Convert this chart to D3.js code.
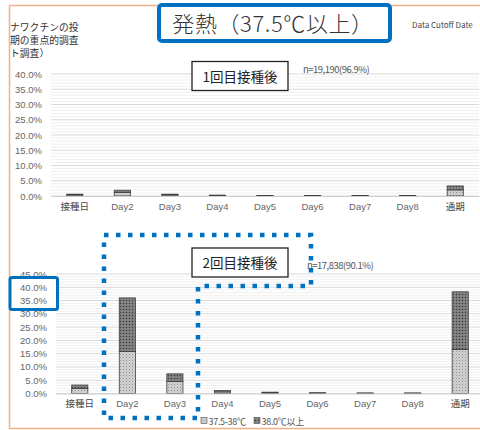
<!DOCTYPE html>
<html>
<head>
<meta charset="utf-8">
<script src="https://cdn.jsdelivr.net/npm/d3@7"></script>
<style>
  body { margin: 0; background: #fff; }
  svg text { font-family: "Noto Sans CJK JP", "Liberation Sans", sans-serif; }
  .tick-label { font-family: "Liberation Sans", sans-serif; font-size: 9.5px; fill: #666; }
</style>
</head>
<body>
<div id="chart"></div>
<script>
// categories and series (percent)
var categories = ["接種日", "Day2", "Day3", "Day4", "Day5", "Day6", "Day7", "Day8", "通期"];
var dose1Low  = [0.4, 1.2, 0.4, 0.2, 0.1, 0.1, 0.1, 0.1, 2.0];
var dose1High = [0.2, 0.7, 0.2, 0.1, 0.1, 0.1, 0.1, 0.1, 1.3];
var dose2Low  = [1.9, 15.8, 4.5, 0.6, 0.3, 0.2, 0.15, 0.15, 16.6];
var dose2High = [1.3, 20.2, 2.9, 0.5, 0.2, 0.1, 0.05, 0.05, 21.7];
var topTicks = [0, 5, 10, 15, 20, 25, 30, 35, 40];
var bottomTicks = [0, 5, 10, 15, 20, 25, 30, 35, 40, 45];
var legendLabels = ["37.5-38℃", "38.0℃以上"];

var blue = "#0070c0";

var svg = d3.select("#chart").append("svg")
  .attr("width", 480)
  .attr("height", 430);

// patterns for the two series
var defs = svg.append("defs");
var p1 = defs.append("pattern").attr("id", "patLow")
  .attr("width", 3).attr("height", 3).attr("patternUnits", "userSpaceOnUse");
p1.append("rect").attr("width", 3).attr("height", 3).attr("fill", "#d4d4d4");
p1.append("rect").attr("x", 0).attr("y", 0).attr("width", 1).attr("height", 1).attr("fill", "#8c8c8c");
p1.append("rect").attr("x", 1.5).attr("y", 1.5).attr("width", 1).attr("height", 1).attr("fill", "#a6a6a6");
var p2 = defs.append("pattern").attr("id", "patHigh")
  .attr("width", 3).attr("height", 3).attr("patternUnits", "userSpaceOnUse");
p2.append("rect").attr("width", 3).attr("height", 3).attr("fill", "#7a7a7a");
p2.append("rect").attr("x", 0).attr("y", 0).attr("width", 1).attr("height", 1).attr("fill", "#3a3a3a");
p2.append("rect").attr("x", 1.5).attr("y", 1.5).attr("width", 1).attr("height", 1).attr("fill", "#a0a0a0");

// orange page frame
svg.append("path")
  .attr("d", "M480,5.5 L9.5,5.5 L9.5,428.5 L480,428.5")
  .attr("fill", "none").attr("stroke", "#f4b183").attr("stroke-width", 1.5);

// header texts
var side = ["ナワクチンの投", "期の重点的調査", "ト調査）"];
side.forEach(function(t, i) {
  svg.append("text").attr("x", 10).attr("y", 31 + i * 13)
    .attr("font-size", 9.8).attr("fill", "#333").text(t);
});
svg.append("text").attr("x", 412).attr("y", 28)
  .attr("font-family", "Liberation Sans").attr("font-size", 8).attr("fill", "#444")
  .text("Data Cutoff Date");

// title box
svg.append("rect").attr("x", 159).attr("y", 5).attr("width", 231).attr("height", 36)
  .attr("rx", 3).attr("fill", "#fff").attr("stroke", blue).attr("stroke-width", 4);
svg.append("text").attr("x", 273).attr("y", 32).attr("text-anchor", "middle")
  .attr("font-size", 22).attr("font-weight", 300).attr("letter-spacing", 0.6)
  .attr("fill", "#333").text("発熱（37.5℃以上）");

function drawPanel(cfg) {
  var y = d3.scaleLinear().domain([0, cfg.max]).range([cfg.bottom, cfg.top]);
  var x = d3.scaleBand().domain(categories).range([cfg.left, cfg.right]).paddingInner(0.66).paddingOuter(0.33);
  var g = svg.append("g");

  // minor and major grid
  d3.range(0, cfg.max + 0.001, 1).forEach(function(v) {
    g.append("line").attr("x1", cfg.left).attr("x2", cfg.right)
      .attr("y1", y(v)).attr("y2", y(v))
      .attr("stroke", v % 5 === 0 ? "#d9d9d9" : "#f0f0f0").attr("stroke-width", 1);
  });

  // y axis labels
  var yAxis = d3.axisLeft(y).tickValues(cfg.ticks).tickSize(0).tickPadding(0)
    .tickFormat(function(d) { return d.toFixed(1) + "%"; });
  var ya = g.append("g").attr("transform", "translate(" + cfg.labelX + ",0)").call(yAxis);
  ya.select(".domain").remove();
  ya.selectAll("text").attr("class", "tick-label");

  // bars
  categories.forEach(function(c, i) {
    var lo = cfg.low[i], hi = cfg.high[i];
    g.append("rect").attr("x", x(c)).attr("width", x.bandwidth())
      .attr("y", y(lo)).attr("height", y(0) - y(lo))
      .attr("fill", "url(#patLow)").attr("stroke", "#404040").attr("stroke-width", 0.8);
    g.append("rect").attr("x", x(c)).attr("width", x.bandwidth())
      .attr("y", y(lo + hi)).attr("height", y(lo) - y(lo + hi))
      .attr("fill", "url(#patHigh)").attr("stroke", "#404040").attr("stroke-width", 0.8);
  });

  // x axis
  var xAxis = d3.axisBottom(x).tickSize(0).tickPadding(0);
  var xa = g.append("g").attr("transform", "translate(0," + y(0) + ")").call(xAxis);
  xa.select(".domain").attr("stroke", "#d0d0d0");
  xa.selectAll("text").attr("class", "tick-label").attr("font-size", 9.5)
    .attr("dy", 0).attr("y", cfg.labelGap)
    .style("font-family", function(d) { return d.indexOf("Day") === 0 ? "Liberation Sans" : "Noto Sans CJK JP"; })
    .style("fill", function(d) { return d.indexOf("Day") === 0 ? "#666" : "#444"; });

  // panel label box
  svg.append("rect").attr("x", 192).attr("y", cfg.boxY).attr("width", 96).attr("height", 29)
    .attr("fill", "#fff").attr("stroke", "#222").attr("stroke-width", 1.3);
  svg.append("text").attr("x", 240).attr("y", cfg.boxY + 20).attr("text-anchor", "middle")
    .attr("font-size", 13.5).attr("fill", "#222").text(cfg.label);
  svg.append("text").attr("x", cfg.nX).attr("y", cfg.nY)
    .attr("font-family", "Liberation Sans").attr("font-size", 9.5).attr("fill", "#555")
    .attr("letter-spacing", -0.5).text(cfg.n);
}

drawPanel({
  low: dose1Low, high: dose1High, max: 40, ticks: topTicks,
  top: 74, bottom: 196, left: 51, right: 479, labelX: 42, labelGap: 14,
  boxY: 61.5, label: "1回目接種後", n: "n=19,190(96.9%)", nX: 303, nY: 73
});

drawPanel({
  low: dose2Low, high: dose2High, max: 45, ticks: bottomTicks,
  top: 274, bottom: 393.5, left: 56, right: 484, labelX: 47, labelGap: 13.5,
  boxY: 248, label: "2回目接種後", n: "n=17,838(90.1%)", nX: 307, nY: 269
});

// legend
var legend = svg.append("g").attr("transform", "translate(201,417)");
legendLabels.forEach(function(t, i) {
  var lx = i === 0 ? 0 : 53;
  legend.append("rect").attr("x", lx).attr("y", 0.5).attr("width", 6).attr("height", 6)
    .attr("fill", i === 0 ? "url(#patLow)" : "url(#patHigh)").attr("stroke", "#555").attr("stroke-width", 0.6);
  legend.append("text").attr("x", lx + 7.5).attr("y", 7.5).attr("font-size", 9).attr("fill", "#555")
    .attr("letter-spacing", -0.3).text(t);
});

// blue annotations
svg.append("rect").attr("x", 10).attr("y", 277.5).attr("width", 47.5).attr("height", 32)
  .attr("rx", 2).attr("fill", "none").attr("stroke", blue).attr("stroke-width", 3);
svg.append("path")
  .attr("d", "M104,235 L311,235 L311,286 L198,286 L198,418 L104,418 Z")
  .attr("fill", "none").attr("stroke", blue).attr("stroke-width", 4.5)
  .attr("stroke-dasharray", "4.5,7.5");
</script>
</body>
</html>
